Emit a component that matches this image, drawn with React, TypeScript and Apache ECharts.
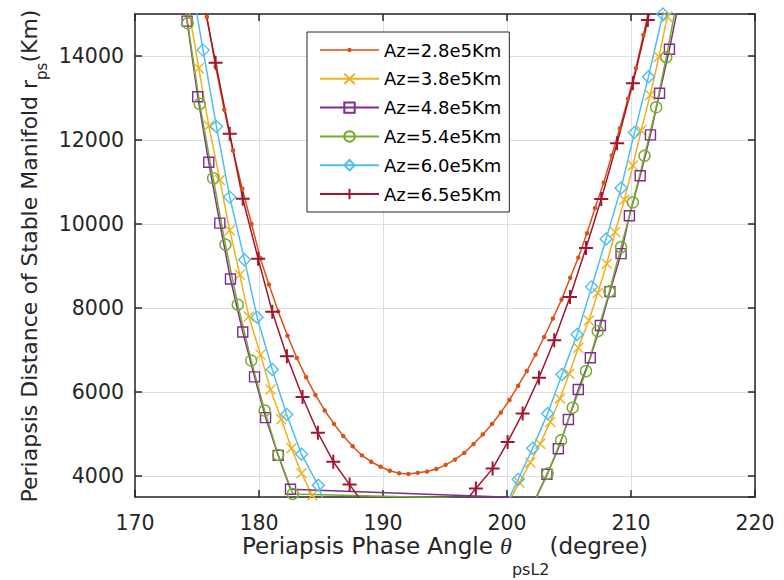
import React, { useEffect, useRef } from 'react';
import * as echarts from 'echarts';

const seriesNames = ['Az=2.8e5Km', 'Az=3.8e5Km', 'Az=4.8e5Km', 'Az=5.4e5Km', 'Az=6.0e5Km', 'Az=6.5e5Km'];
const seriesColors = ['#D95319', '#EDB120', '#7E2F8E', '#77AC30', '#4DBEEE', '#A2142F'];
const xTicks = [170, 180, 190, 200, 210, 220];
const yTickLabels = [4000, 6000, 8000, 10000, 12000, 14000];

// [phase angle (deg), periapsis distance (km)]
const az28: [number, number][] = [
  [175.1, 16100], [175.8, 14930], [176.5, 13750], [177.2, 12720], [177.9, 11750], [178.65, 10840],
  [179.4, 10000], [180.1, 9190], [180.8, 8560], [181.55, 7920], [182.3, 7340], [183.05, 6810],
  [183.8, 6350], [184.55, 5930], [185.3, 5560], [186.05, 5240], [186.8, 4950], [187.55, 4710],
  [188.3, 4490], [189.05, 4340], [189.8, 4220], [190.55, 4125], [191.3, 4065], [192.05, 4050],
  [192.8, 4075], [193.55, 4105], [194.3, 4165], [195.05, 4265], [195.8, 4390], [196.55, 4550],
  [197.3, 4760], [198.05, 4990], [198.8, 5240], [199.5, 5510], [200.2, 5810], [200.9, 6150],
  [201.6, 6500], [202.3, 6890], [203.0, 7310], [203.7, 7750], [204.4, 8200], [205.1, 8720],
  [205.75, 9200], [206.45, 9780], [207.1, 10380], [207.8, 10990], [208.45, 11630], [209.1, 12280],
  [209.75, 12980], [210.4, 13710], [211.0, 14500], [211.6, 15300]
];
const az38: [number, number][] = [
  [174.35, 15080], [175.14, 13710], [175.95, 12340], [176.84, 11050], [177.64, 9850], [178.45, 8790],
  [179.18, 7800], [180.12, 6890], [180.93, 6060], [181.79, 5350], [182.62, 4660], [183.43, 4065],
  [184.3, 3540], [184.7, 3300], [200.0, 3300], [200.99, 3843], [201.88, 4320], [202.68, 4770],
  [203.49, 5285], [204.27, 5847], [205.02, 6434], [205.75, 7052], [206.6, 7703], [207.32, 8359],
  [208.05, 9055], [208.72, 9809], [209.47, 10577], [210.15, 11393], [210.82, 12224], [211.55, 13073],
  [212.25, 13983], [212.93, 14934], [213.6, 15900]
];
const az48: [number, number][] = [
  [173.4, 16700], [174.2, 14830], [175.06, 13030], [175.95, 11470], [176.84, 10020], [177.7, 8690],
  [178.69, 7430], [179.64, 6360], [180.53, 5390], [181.55, 4490], [182.54, 3684], [200.6, 3490],
  [201.9, 3200], [203.22, 4040], [204.14, 4650], [204.95, 5347], [205.75, 6060], [206.72, 6815],
  [207.53, 7584], [208.3, 8390], [209.2, 9294], [209.87, 10198], [210.74, 11148], [211.57, 12122],
  [212.3, 13113], [213.1, 14159], [213.8, 15200]
];
const az54: [number, number][] = [
  [173.3, 16700], [174.25, 14780], [175.22, 12860], [176.3, 11090], [177.29, 9510], [178.29, 8080],
  [179.37, 6750], [180.45, 5560], [181.55, 4500], [182.73, 3573], [195.0, 3480], [202.0, 3250],
  [203.28, 4057], [204.36, 4850], [205.3, 5626], [206.37, 6496], [207.32, 7449], [208.26, 8398],
  [209.2, 9450], [210.15, 10516], [211.09, 11623], [212.03, 12780], [212.84, 13968], [213.6, 15150]
];
const az60: [number, number][] = [
  [174.9, 15150], [175.49, 14140], [176.57, 12320], [177.64, 10640], [178.83, 9150], [179.85, 7780],
  [181.07, 6536], [182.23, 5466], [183.43, 4516], [184.78, 3779], [185.4, 3200], [199.75, 3200],
  [200.9, 3922], [202.07, 4658], [203.28, 5490], [204.43, 6417], [205.65, 7370], [206.83, 8503],
  [207.99, 9645], [209.2, 10855], [210.28, 12177], [211.41, 13508], [212.57, 15000]
];
const az65: [number, number][] = [
  [175.3, 15640], [176.5, 13840], [177.64, 12150], [178.69, 10600], [179.93, 9175], [181.07, 7910],
  [182.25, 6850], [183.51, 5880], [184.75, 5030], [185.99, 4340], [187.31, 3795], [188.6, 3260],
  [196.2, 3250], [197.49, 3700], [198.84, 4176], [200.05, 4808], [201.26, 5490], [202.58, 6339],
  [203.81, 7233], [205.08, 8264], [206.37, 9430], [207.6, 10594], [208.88, 11925], [210.15, 13351],
  [211.36, 14856], [212.5, 16300]
];

const seriesData = [az28, az38, az48, az54, az60, az65];
const PLUS = 'path://M5,0L5,10M0,5L10,5';
const CROSS = 'path://M0,0L10,10M10,0L0,10';
const symbols = ['circle', CROSS, 'rect', 'circle', 'diamond', PLUS];
const symbolSizes = [4.5, 10, 10, 11, 12, 14];
// legend icon for the dotted series: a line with a small dot, drawn in a 59x13 box
const DOT_LINE_ICON =
  'path://M0,0L0.01,0L0,0.01Z M59,13L58.99,13L59,12.99Z M0,5.8H59V7.2H0Z ' +
  'M27.3,6.5A2.2,2.2,0,1,1,31.7,6.5A2.2,2.2,0,1,1,27.3,6.5Z';

const FONT = "'DejaVu Sans', 'Liberation Sans', Arial, sans-serif";
const AXIS_COLOR = '#262626';

export default function App() {
  const ref = useRef<HTMLDivElement>(null);
  useEffect(() => {
    document.body.style.margin = '0';
    if (!ref.current) return;
    const chart = echarts.init(ref.current, null, { renderer: 'svg' });
    const axisCommon = {
      axisLine: { show: true, onZero: false, lineStyle: { color: AXIS_COLOR, width: 1.5 } },
      axisTick: { show: true, inside: true, length: 7, lineStyle: { color: AXIS_COLOR, width: 1.5 } },
    };
    const series = seriesData.map((d, i) => {
      const c = seriesColors[i];
      const filled = i === 0;
      return {
        type: 'line',
        name: seriesNames[i],
        data: d,
        symbol: symbols[i],
        symbolSize: symbolSizes[i],
        showSymbol: true,
        showAllSymbol: true,
        clip: true,
        lineStyle: { color: c, width: 1.5 },
        itemStyle: filled
          ? { color: c, borderWidth: 0 }
          : { color: 'none', borderColor: c, borderWidth: i === 5 ? 2 : 1.4 },
        emphasis: { disabled: true },
        xAxisIndex: 0,
        yAxisIndex: 0,
      };
    });
    chart.setOption({
      animation: false,
      backgroundColor: '#fff',
      grid: { left: 135, right: 29, top: 14, bottom: 83, containLabel: false },
      xAxis: [
        {
          type: 'value', min: xTicks[0], max: xTicks[xTicks.length - 1], interval: 10, position: 'bottom',
          ...axisCommon,
          axisLabel: { fontSize: 20.5, color: AXIS_COLOR, margin: 15, fontFamily: FONT },
          splitLine: { show: true, lineStyle: { color: '#dfdfdf', width: 1 } },
        },
        {
          type: 'value', min: xTicks[0], max: xTicks[xTicks.length - 1], interval: 10, position: 'top',
          ...axisCommon,
          axisLabel: { show: false },
          splitLine: { show: false },
        },
      ],
      yAxis: [
        {
          type: 'value', min: 3500, max: 15000, splitNumber: 5, position: 'left',
          ...axisCommon,
          axisLabel: {
            fontSize: 20.5, color: AXIS_COLOR, margin: 11, fontFamily: FONT,
            showMinLabel: false, showMaxLabel: false,
            formatter: (v: number) => (yTickLabels.indexOf(v) >= 0 ? String(v) : ''),
          },
          splitLine: { show: true, lineStyle: { color: '#dfdfdf', width: 1 } },
        },
        {
          type: 'value', min: 3500, max: 15000, splitNumber: 5, position: 'right',
          ...axisCommon,
          axisLabel: { show: false },
          splitLine: { show: false },
        },
      ],
      legend: {
        orient: 'vertical', left: 307, top: 32,
        itemWidth: 59, itemHeight: 13, itemGap: 8.8,
        padding: [8, 8, 8, 12],
        backgroundColor: '#fff', borderColor: AXIS_COLOR, borderWidth: 1,
        textStyle: { fontSize: 18, lineHeight: 20, color: '#000', fontFamily: FONT },
        data: seriesNames.map((n, i) => (i === 0 ? { name: n, icon: DOT_LINE_ICON } : { name: n })),
      },
      graphic: [
        {
          type: 'text', x: 445, y: 546,
          style: {
            text: '{n|Periapsis Phase Angle }{th|θ}{sub|psL2}{n|(degree)}',
            align: 'center', verticalAlign: 'middle', fill: AXIS_COLOR,
            rich: {
              n: { fontSize: 23, lineHeight: 27, fontFamily: FONT, fill: AXIS_COLOR },
              th: { fontSize: 24, lineHeight: 27, fontFamily: "'Liberation Serif', 'Times New Roman', serif", fontStyle: 'italic', fill: AXIS_COLOR },
              sub: { fontSize: 16, lineHeight: 18, padding: [46, 0, 0, 0], fontFamily: FONT, fill: AXIS_COLOR },
            },
          },
        },
        {
          type: 'text', x: 29.5, y: 256, rotation: Math.PI / 2,
          style: {
            text: '{n|Periapsis Distance of Stable Manifold r}{sub|ps}{n|(Km)}',
            align: 'center', verticalAlign: 'middle', fill: AXIS_COLOR,
            rich: {
              n: { fontSize: 22, lineHeight: 26, fontFamily: FONT, fill: AXIS_COLOR },
              sub: { fontSize: 15, lineHeight: 17, padding: [24, 0, 0, 0], fontFamily: FONT, fill: AXIS_COLOR },
            },
          },
        },
      ],
      series,
    });
    return () => chart.dispose();
  }, []);
  return <div ref={ref} style={{ width: 784, height: 580 }} />;
}
